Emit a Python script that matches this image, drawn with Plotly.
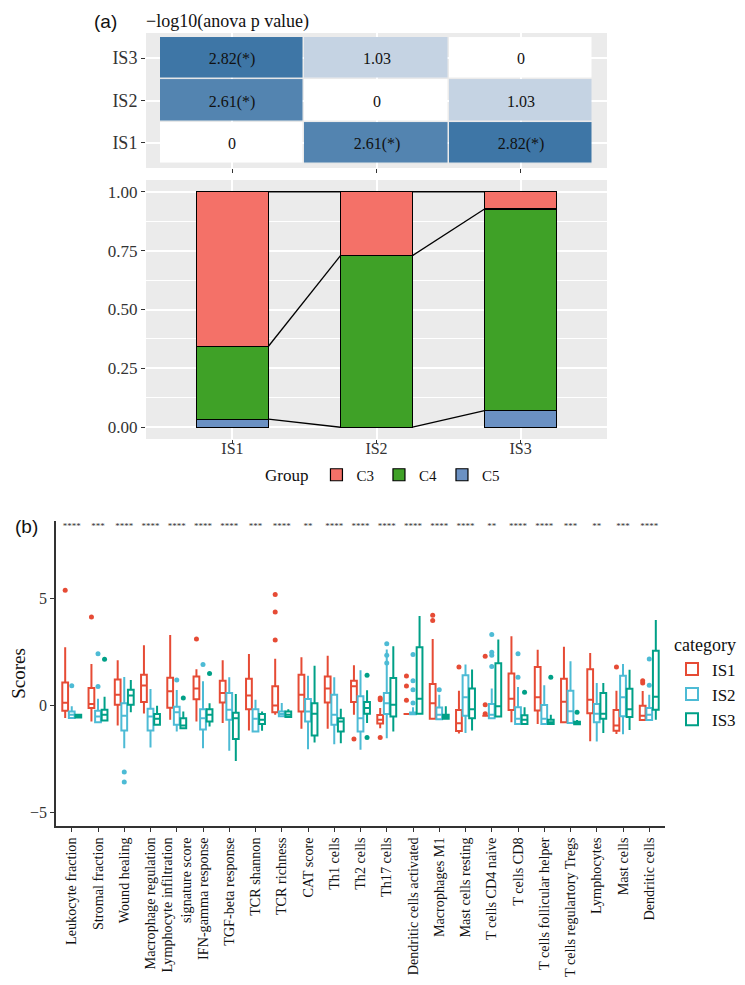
import plotly.graph_objects as go

# ---------------- Panel (a) data ----------------
IS_GROUPS = ["IS1", "IS2", "IS3"]
# -log10(anova p) matrix, rows = IS1, IS2, IS3 (bottom->top), cols = IS1, IS2, IS3
anova_IS1 = [0.0, 2.61, 2.82]
anova_IS2 = [2.61, 0.0, 1.03]
anova_IS3 = [2.82, 1.03, 0.0]
SIG_THRESHOLD = 1.30  # -log10(0.05)

cluster_names = ["C3", "C4", "C5"]
C3_frac = [0.656, 0.271, 0.073]
C4_frac = [0.310, 0.729, 0.856]
C5_frac = [0.034, 0.000, 0.071]

# ---------------- Panel (b) data ----------------
categories = [
    "Leukocyte fraction", "Stromal fraction", "Wound healing", "Macrophage regulation",
    "Lymphocyte infiltration<br>signature score", "IFN-gamma response", "TGF-beta response",
    "TCR shannon", "TCR richness", "CAT score", "Th1 cells", "Th2 cells", "Th17 cells",
    "Dendritic cells activated", "Macrophages M1", "Mast cells resting", "T cells CD4 naive",
    "T cells CD8", "T cells follicular helper", "T cells regulartory Tregs", "Lymphocytes",
    "Mast cells", "Dendritic cells",
]
signif = ["****", "***", "****", "****", "****", "****", "****", "***", "****", "**",
          "****", "****", "****", "****", "****", "****", "**", "****", "****", "***",
          "**", "***", "****"]

# (lower whisker, q1, median, q3, upper whisker) per category
IS1_stats = [
    (-0.60, -0.27, 0.11, 1.05, 2.70), (-0.77, -0.14, 0.05, 0.80, 1.92),
    (-0.95, 0.02, 0.48, 1.19, 2.09), (-0.39, 0.14, 0.91, 1.42, 2.80),
    (-0.69, -0.12, 0.64, 1.28, 3.27), (-0.77, 0.27, 0.77, 1.34, 1.67),
    (-0.84, 0.12, 0.56, 1.14, 2.09), (-1.19, -0.20, 0.45, 1.23, 2.39),
    (-0.45, -0.34, -0.02, 0.88, 2.16), (-1.11, -0.30, 0.48, 1.42, 2.23),
    (-1.11, 0.12, 0.77, 1.34, 2.31), (-0.45, 0.14, 0.88, 1.14, 1.86),
    (-1.08, -0.86, -0.69, -0.46, -0.14), (-0.42, -0.42, -0.42, -0.42, -0.42),
    (-0.64, -0.64, 0.09, 0.98, 3.09), (-1.33, -1.21, -0.85, -0.23, 0.67),
    (-0.50, -0.50, -0.50, -0.50, -0.50), (-0.80, -0.23, 0.29, 1.48, 3.21),
    (-0.89, -0.25, 0.37, 1.78, 2.58), (-0.85, -0.80, 0.16, 1.23, 2.73),
    (-1.69, -0.38, 0.25, 1.67, 2.43), (-1.35, -1.20, -0.95, -0.23, 0.67),
    (-0.70, -0.70, -0.50, -0.03, 0.66),
]
IS2_stats = [
    (-0.64, -0.60, -0.45, -0.30, -0.06), (-0.80, -0.80, -0.53, -0.27, 0.30),
    (-2.02, -1.19, -0.50, 0.09, 1.31), (-1.98, -1.19, -0.53, -0.17, 0.75),
    (-1.23, -0.92, -0.33, -0.08, 0.70), (-2.02, -1.14, -0.61, -0.20, 1.11),
    (-2.14, -0.69, -0.22, 0.56, 1.30), (-1.23, -1.23, -0.64, -0.19, 0.25),
    (-0.55, -0.52, -0.42, -0.30, 0.10), (-2.06, -0.77, -0.30, 0.28, 1.37),
    (-1.83, -0.92, -0.45, 0.48, 1.30), (-2.09, -1.23, -0.61, 0.41, 1.63),
    (-1.55, -0.42, 0.09, 0.56, 2.60), (-0.45, -0.43, -0.40, -0.35, -0.10),
    (-0.66, -0.66, -0.45, -0.11, 0.48), (-1.31, -0.50, 0.36, 1.39, 1.89),
    (-0.61, -0.61, -0.45, 0.05, 0.77), (-0.89, -0.89, -0.64, -0.10, 0.84),
    (-0.89, -0.89, -0.64, 0.00, 0.93), (-0.84, -0.84, -0.29, 0.67, 2.05),
    (-1.70, -0.80, -0.41, 0.05, 1.03), (-1.36, -0.52, 0.36, 1.37, 1.92),
    (-0.70, -0.70, -0.45, -0.14, 0.48),
]
IS3_stats = [
    (-0.62, -0.58, -0.50, -0.45, -0.40), (-0.72, -0.72, -0.45, -0.22, 0.39),
    (-0.33, 0.01, 0.45, 0.72, 1.17), (-0.92, -0.92, -0.64, -0.42, -0.03),
    (-1.10, -1.08, -0.95, -0.62, -0.30), (-1.00, -0.77, -0.45, -0.20, 0.09),
    (-2.61, -1.58, -0.61, -0.36, 0.52), (-1.20, -0.89, -0.69, -0.42, -0.30),
    (-0.58, -0.56, -0.45, -0.30, -0.20), (-1.75, -1.42, -0.41, 0.09, 1.84),
    (-1.78, -1.23, -0.77, -0.61, -0.17), (-0.84, -0.41, -0.14, 0.14, 0.69),
    (-1.23, -0.53, 0.02, 1.27, 2.75), (-0.41, -0.41, 0.30, 2.70, 4.16),
    (-0.69, -0.64, -0.55, -0.45, -0.05), (-1.19, -0.61, -0.19, 0.77, 1.66),
    (-0.53, -0.53, -0.06, 1.95, 3.06), (-0.89, -0.89, -0.69, -0.47, -0.10),
    (-0.89, -0.89, -0.80, -0.69, -0.45), (-0.94, -0.90, -0.85, -0.78, -0.70),
    (-1.31, -0.64, -0.41, 0.56, 1.03), (-1.17, -0.56, -0.19, 0.76, 1.65),
    (-0.69, -0.22, 0.39, 2.54, 3.97),
]
# outliers: {category index: [values]}
IS1_out = {0: [5.36], 1: [4.12], 5: [3.09], 8: [3.04, 4.35, 5.17], 11: [-1.59],
           12: [0.33, 0.25, -1.52], 13: [1.36, 0.89, 0.23], 14: [3.95, 4.20],
           15: [1.78], 16: [2.28, 0.02, -0.40], 21: [1.78], 22: [1.03, 1.14]}
IS2_out = {0: [0.90], 1: [0.87, 2.40], 2: [-3.13, -3.60], 4: [1.17], 5: [1.89],
           12: [1.97, 2.33, 2.86], 13: [0.10, 0.72, 1.14, 2.36], 14: [0.72],
           16: [1.80, 2.33, 2.47, 3.30], 17: [1.30, 2.40], 22: [0.93, 2.15]}
IS3_out = {1: [2.14], 4: [0.33], 5: [1.48], 11: [1.39, -1.52], 17: [0.60],
           18: [1.30], 19: [-0.33]}

# ---------------- styles ----------------
SERIF = "Liberation Serif"
SANS = "Liberation Sans"
PANEL_BG = "#EBEBEB"
AXIS_COL = "#333333"
TXT_COL = "#111111"
cluster_colors = ["#F47168", "#3FA127", "#6B91C3"]
box_colors = ["#E64B35", "#4DBBD5", "#00A087"]
DODGE = [-0.25, 0.0, 0.25]
BOX_W = 0.22
BAR_W = 0.5
STAR_Y = 8.35

W, H = 745, 985


def px_x(p):
    return p / W


def px_y(p):
    return 1 - p / H


fig = go.Figure()

# ---------- heatmap ----------
z = [anova_IS1, anova_IS2, anova_IS3]


def fmt(v):
    if v == 0:
        return "0"
    return f"{v:.2f}(*)" if v > SIG_THRESHOLD else f"{v:.2f}"


txt = [[fmt(v) for v in row] for row in z]
fig.add_trace(go.Heatmap(
    z=z, x=IS_GROUPS, y=IS_GROUPS, text=txt, texttemplate="%{text}",
    textfont=dict(family=SERIF, size=16, color=TXT_COL),
    colorscale=[[0, "#ffffff"], [0.365, "#c5d3e3"], [0.926, "#5384b0"], [1, "#3e76a6"]],
    zmin=0, zmax=max(max(r) for r in z), showscale=False, xgap=1.5, ygap=1.5,
    xaxis="x", yaxis="y", hoverinfo="skip",
))

# ---------- stacked bars ----------
xpos = list(range(len(IS_GROUPS)))
fracs = [C3_frac, C4_frac, C5_frac]
# draw bottom-up: C5, C4, C3
for k in [2, 1, 0]:
    fig.add_trace(go.Bar(
        x=xpos, y=fracs[k], width=BAR_W, name=cluster_names[k],
        marker=dict(color=cluster_colors[k], line=dict(color="black", width=1.2)),
        xaxis="x2", yaxis="y2", legend="legend", legendrank=k + 1,
    ))
# connecting lines at top of each segment
tops_C5 = C5_frac
tops_C4 = [a + b for a, b in zip(C5_frac, C4_frac)]
tops_C3 = [a + b + c for a, b, c in zip(C5_frac, C4_frac, C3_frac)]
for tops in [tops_C3, tops_C4, tops_C5]:
    lx, ly = [], []
    for i in range(len(xpos) - 1):
        lx += [xpos[i] + BAR_W / 2, xpos[i + 1] - BAR_W / 2, None]
        ly += [tops[i], tops[i + 1], None]
    fig.add_trace(go.Scatter(x=lx, y=ly, mode="lines", line=dict(color="black", width=1.3),
                             showlegend=False, xaxis="x2", yaxis="y2", hoverinfo="skip"))

# ---------- box plots ----------
all_stats = [IS1_stats, IS2_stats, IS3_stats]
all_out = [IS1_out, IS2_out, IS3_out]
for g, (name, stats, outs, col, off) in enumerate(zip(IS_GROUPS, all_stats, all_out, box_colors, DODGE)):
    fig.add_trace(go.Box(
        x=[i + off for i in range(len(categories))],
        lowerfence=[s[0] for s in stats], q1=[s[1] for s in stats],
        median=[s[2] for s in stats], q3=[s[3] for s in stats],
        upperfence=[s[4] for s in stats],
        width=BOX_W, whiskerwidth=0, fillcolor="white",
        line=dict(color=col, width=2), name=name, boxpoints=False,
        xaxis="x3", yaxis="y3", legend="legend2", hoverinfo="skip",
    ))
    ox, oy = [], []
    for ci, vals in outs.items():
        for v in vals:
            ox.append(ci + off)
            oy.append(v)
    fig.add_trace(go.Scatter(x=ox, y=oy, mode="markers", marker=dict(color=col, size=5),
                             showlegend=False, xaxis="x3", yaxis="y3", hoverinfo="skip"))

fig.add_trace(go.Scatter(
    x=list(range(len(categories))), y=[STAR_Y] * len(categories), mode="text", text=signif,
    textfont=dict(family=SERIF, size=9, color="#333"), showlegend=False,
    xaxis="x3", yaxis="y3", hoverinfo="skip",
))

# ---------- layout ----------
x_dom_a = [px_x(138), px_x(599)]
fig.update_layout(
    width=W, height=H, margin=dict(l=0, r=0, t=0, b=0),
    paper_bgcolor="white", plot_bgcolor="rgba(0,0,0,0)",
    barmode="stack", boxmode="overlay", font=dict(family=SERIF, color=AXIS_COL),
    xaxis=dict(domain=x_dom_a, anchor="y", range=[-0.597, 2.597], showticklabels=False,
               ticks="outside", ticklen=4, tickcolor=AXIS_COL, showgrid=True,
               gridcolor="white", gridwidth=1.5, zeroline=False),
    yaxis=dict(domain=[px_y(160), px_y(25)], anchor="x", range=[-0.595, 2.595],
               ticks="outside", ticklen=4, tickcolor=AXIS_COL,
               tickfont=dict(family=SERIF, size=18, color=AXIS_COL),
               showgrid=True, gridcolor="white", gridwidth=1.5, zeroline=False),
    xaxis2=dict(domain=x_dom_a, anchor="y2", range=[-0.6, 2.6], tickvals=xpos,
                ticktext=IS_GROUPS, ticks="outside", ticklen=4, tickcolor=AXIS_COL,
                tickfont=dict(family=SERIF, size=16, color=AXIS_COL), ticklabelstandoff=-9,
                showgrid=True, gridcolor="white", gridwidth=1.5, zeroline=False),
    yaxis2=dict(domain=[px_y(431), px_y(172)], anchor="x2", range=[-0.05, 1.05],
                tickvals=[0, 0.25, 0.5, 0.75, 1.0],
                ticktext=["0.00", "0.25", "0.50", "0.75", "1.00"],
                ticks="outside", ticklen=4, tickcolor=AXIS_COL,
                tickfont=dict(family=SERIF, size=17, color=AXIS_COL),
                showgrid=True, gridcolor="white", gridwidth=1.5, zeroline=False,
                minor=dict(tickvals=[0.125, 0.375, 0.625, 0.875], showgrid=True,
                           gridcolor="white", gridwidth=0.7)),
    xaxis3=dict(domain=[px_x(48), px_x(657)], anchor="y3", range=[-0.6, 22.6],
                tickvals=list(range(len(categories))), ticktext=categories, tickangle=-90,
                tickfont=dict(family=SERIF, size=14.2, color=TXT_COL), ticks="outside",
                ticklen=4, tickcolor=AXIS_COL, showline=True, linecolor=AXIS_COL,
                linewidth=1.5, showgrid=False, zeroline=False),
    yaxis3=dict(domain=[px_y(818), px_y(513)], anchor="x3", range=[-5.65, 8.6],
                tickvals=[-5, 0, 5], tickfont=dict(family=SERIF, size=16, color=AXIS_COL),
                ticks="outside", ticklen=4, tickcolor=AXIS_COL, showline=True,
                linecolor=AXIS_COL, linewidth=1.5, showgrid=False, zeroline=False,
                title=dict(text="Scores", font=dict(family=SERIF, size=19, color=TXT_COL),
                           standoff=6)),
    legend=dict(orientation="h", x=px_x(376), xanchor="center", y=px_y(467),
                yanchor="middle", title=dict(text="Group", side="left",
                                             font=dict(family=SERIF, size=17, color=TXT_COL)),
                font=dict(family=SERIF, size=15, color=TXT_COL), traceorder="normal",
                bgcolor="rgba(0,0,0,0)"),
    legend2=dict(x=px_x(664), xanchor="left", y=px_y(620), yanchor="top",
                 title=dict(text="category", font=dict(family=SERIF, size=18, color=TXT_COL)),
                 font=dict(family=SERIF, size=17, color=TXT_COL), bgcolor="rgba(0,0,0,0)",
                 tracegroupgap=0),
    shapes=[
        dict(type="rect", xref="x domain", yref="y domain", x0=0, x1=1, y0=0, y1=1,
             fillcolor=PANEL_BG, line=dict(width=0), layer="below"),
        dict(type="rect", xref="x2 domain", yref="y2 domain", x0=0, x1=1, y0=0, y1=1,
             fillcolor=PANEL_BG, line=dict(width=0), layer="below"),
    ],
    annotations=[
        dict(text="(a)", xref="paper", yref="paper", x=px_x(84), y=px_y(13),
             xanchor="left", yanchor="middle", showarrow=False,
             font=dict(family=SANS, size=19, color=TXT_COL)),
        dict(text="(b)", xref="paper", yref="paper", x=px_x(5), y=px_y(518),
             xanchor="left", yanchor="middle", showarrow=False,
             font=dict(family=SANS, size=19, color=TXT_COL)),
        dict(text="\u2212log10(anova p value)", xref="paper", yref="paper", x=px_x(136),
             y=px_y(13), xanchor="left", yanchor="middle", showarrow=False,
             font=dict(family=SERIF, size=18, color=TXT_COL)),
    ],
)

fig.write_html("out.html")
